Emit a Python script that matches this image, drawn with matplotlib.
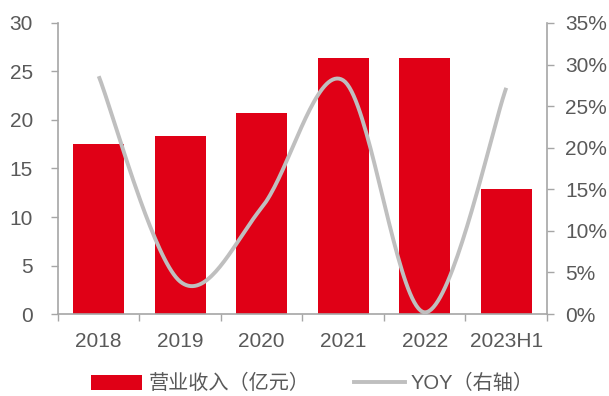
"""Revenue bars with a smoothed YoY growth line on a secondary axis."""
import matplotlib

matplotlib.use("Agg")
import matplotlib.pyplot as plt
import numpy as np
from matplotlib.lines import Line2D
from matplotlib.patches import Patch
from matplotlib.ticker import FuncFormatter

plt.rcParams["font.family"] = ["Liberation Sans", "Noto Sans CJK SC"]

years = ["2018", "2019", "2020", "2021", "2022", "2023H1"]
revenue = [17.5, 18.35, 20.7, 26.35, 26.35, 12.9]       # 亿元
yoy = [0.286, 0.039, 0.128, 0.281, 0.002, 0.272]

RED = "#E00016"
GREY = "#BFBFBF"
TEXT = "#595959"
SPINE = "#A6A6A6"


def smooth(x, y, steps=40):
    """Catmull-Rom style cubic Bezier through every point (Excel 'smoothed line')."""
    x = np.asarray(x, float)
    y = np.asarray(y, float)
    px = np.concatenate([[x[0]], x, [x[-1]]])
    py = np.concatenate([[y[0]], y, [y[-1]]])
    xs, ys = [], []
    t = np.linspace(0, 1, steps)
    for i in range(1, len(px) - 2):
        p0 = np.array([px[i], py[i]])
        p3 = np.array([px[i + 1], py[i + 1]])
        p1 = p0 + (np.array([px[i + 1], py[i + 1]]) - np.array([px[i - 1], py[i - 1]])) / 6
        p2 = p3 - (np.array([px[i + 2], py[i + 2]]) - np.array([px[i], py[i]])) / 6
        b = ((1 - t) ** 3)[:, None] * p0 + (3 * (1 - t) ** 2 * t)[:, None] * p1 \
            + (3 * (1 - t) * t ** 2)[:, None] * p2 + (t ** 3)[:, None] * p3
        xs.append(b[:, 0])
        ys.append(b[:, 1])
    return np.concatenate(xs), np.concatenate(ys)


fig = plt.figure(figsize=(6.09, 3.96), dpi=100)
ax = fig.add_axes([0.0952, 0.207, 0.8030, 0.735])
ax2 = ax.twinx()

x = np.arange(len(years))
ax.bar(x, revenue, width=0.63, color=RED, zorder=2)
cx, cy = smooth(x, yoy)
ax2.plot(cx, np.clip(cy, 0, None), color=GREY, lw=2.8, solid_capstyle="butt", zorder=3)

ax.set_xlim(-0.5, len(years) - 0.5)
ax.set_ylim(0, 30)
ax.set_yticks(range(0, 31, 5))
ax2.set_ylim(0, 0.35)
ax2.set_yticks(np.arange(0, 0.351, 0.05))
ax2.yaxis.set_major_formatter(FuncFormatter(lambda v, _: f"{v * 100:.0f}%"))

# category boundaries carry the tick marks, labels sit at the centres
ax.set_xticks(np.arange(-0.5, len(years), 1.0))
ax.set_xticklabels([])
ax.set_xticks(x, minor=True)
ax.set_xticklabels(years, minor=True)
ax.tick_params(axis="x", which="major", length=5, color=SPINE, width=1)
ax.tick_params(axis="x", which="minor", length=0, pad=13, labelsize=15, labelcolor=TEXT)
ax.tick_params(axis="y", length=5, color=SPINE, width=1, labelsize=15, labelcolor=TEXT, pad=13)
ax2.tick_params(axis="y", length=5, color=SPINE, width=1, labelsize=15, labelcolor=TEXT, pad=8)

for a in (ax, ax2):
    a.spines["top"].set_visible(False)
    for side in ("left", "right", "bottom"):
        a.spines[side].set_color(SPINE)
        a.spines[side].set_linewidth(1.2)
ax.spines["right"].set_visible(False)
ax2.spines["left"].set_visible(False)
ax2.spines["bottom"].set_visible(False)

handles = [Patch(facecolor=RED, edgecolor="none"),
           Line2D([], [], color=GREY, lw=2.8)]
fig.legend(handles, ["营业收入（亿元）", "YOY（右轴）"], loc="center",
           bbox_to_anchor=(0.513, 0.031), ncol=2, frameon=False, fontsize=14.5,
           labelcolor=TEXT, handlelength=2.55, handleheight=0.75, handletextpad=0.3,
           columnspacing=2.2, borderpad=0)

fig.savefig("out.png", dpi=100)
